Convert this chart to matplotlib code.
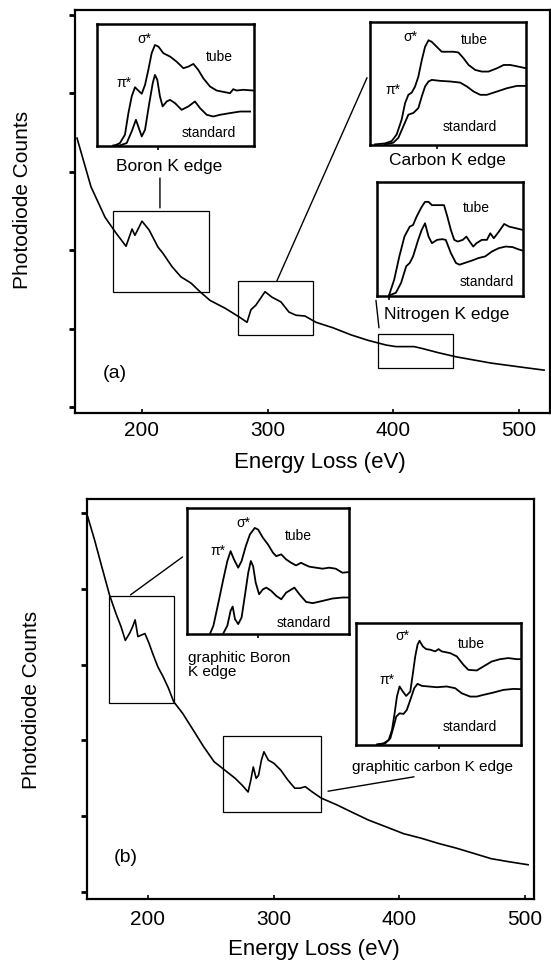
import matplotlib.pyplot as plt
from matplotlib.patches import Rectangle

plt.rcParams['font.family'] = ['Liberation Sans', 'DejaVu Sans']

# main spectrum (a) - BN tube, energy loss vs counts (arbitrary units)
a_energy = [148.3, 159.4, 170.6, 179.3, 187.3, 192.1, 194.4, 200.0, 205.6, 212.7,
            216.7, 223.9, 231.0, 239.0, 246.2, 254.1, 266.1, 277.2, 283.6, 286.7,
            290.7, 297.9, 303.5, 310.6, 317.0, 322.6, 329.7, 338.5, 352.0, 366.3,
            379.9, 394.2, 402.1, 416.5, 422.0, 436.4, 449.9, 477.7, 505.6, 520.0]
a_counts = [3.43, 2.81, 2.42, 2.22, 2.05, 2.27, 2.19, 2.37, 2.26, 2.04,
            1.96, 1.79, 1.66, 1.58, 1.47, 1.36, 1.26, 1.15, 1.08, 1.24,
            1.30, 1.47, 1.40, 1.34, 1.21, 1.17, 1.16, 1.08, 1.01, 0.92,
            0.85, 0.79, 0.77, 0.77, 0.75, 0.69, 0.64, 0.56, 0.50, 0.47]

# main spectrum (b)
b_energy = [152.1, 157.6, 163.3, 169.4, 174.4, 178.6, 182.0, 185.6, 187.8, 189.8,
            192.0, 194.8, 197.6, 200.9, 203.7, 207.9, 212.1, 216.3, 220.5, 227.5,
            235.9, 244.2, 252.6, 261.0, 269.4, 274.9, 279.7, 281.9, 283.8, 286.1,
            288.0, 290.3, 292.3, 295.8, 300.1, 305.6, 311.2, 316.8, 321.0, 325.2,
            330.8, 337.8, 350.3, 361.5, 375.4, 389.5, 403.4, 417.4, 431.4, 445.2,
            459.2, 473.1, 487.1, 502.5]
b_counts = [4.95, 4.64, 4.29, 3.92, 3.68, 3.50, 3.32, 3.42, 3.50, 3.59,
            3.37, 3.39, 3.41, 3.28, 3.15, 2.97, 2.84, 2.69, 2.51, 2.36,
            2.14, 1.92, 1.72, 1.61, 1.50, 1.41, 1.32, 1.48, 1.65, 1.50,
            1.54, 1.74, 1.85, 1.74, 1.70, 1.61, 1.48, 1.37, 1.37, 1.39,
            1.32, 1.24, 1.15, 1.06, 0.95, 0.86, 0.77, 0.71, 0.64, 0.58,
            0.51, 0.44, 0.40, 0.36]

xticks = [200, 300, 400, 500]
yticks = [0, 1, 2, 3, 4, 5]

# inset edges (relative energy 0-100, relative intensity 0-100)
boron_a_tube_x = [11.5, 14.6, 17.8, 20.0, 22.1, 24.2, 26.3, 28.5, 30.6, 32.7, 34.8, 36.9, 39.1, 42.3,
                  46.5, 50.7, 55.0, 58.2, 61.4, 64.5, 67.7, 72.0, 76.2, 80.5, 84.7, 86.8, 89.0, 93.2, 99.6]
boron_a_tube_y = [0, 1.9, 8.8, 26.6, 40.3, 47.9, 45.2, 42.5, 49.9, 62.2, 75.9, 82.7, 81.4, 75.9,
                  73.2, 69.0, 63.6, 64.9, 67.1, 62.2, 55.3, 48.5, 45.2, 44.1, 43.0, 46.3, 45.2, 45.8, 45.2]
boron_a_std_x = [10.4, 14.6, 18.9, 22.1, 24.8, 27.0, 28.5, 30.6, 33.3, 35.5, 36.9, 38.4, 40.1, 41.8,
                 44.4, 46.5, 49.7, 53.9, 58.2, 62.4, 65.6, 69.9, 74.1, 78.3, 84.7, 91.1, 97.5]
boron_a_std_y = [0, 0, 1.9, 11.5, 21.1, 12.9, 7.4, 12.9, 34.8, 51.2, 58.1, 54.0, 40.3, 32.1,
                 36.2, 37.5, 34.8, 29.3, 32.1, 36.2, 30.7, 25.2, 23.8, 25.2, 26.6, 27.9, 27.9]

carbon_a_tube_x = [3.2, 9.6, 13.9, 17.1, 20.3, 22.5, 24.6, 26.8, 28.9, 31.0, 33.2, 35.3, 37.5, 39.6,
                   42.8, 46.0, 49.3, 53.5, 56.7, 60.0, 63.2, 67.5, 71.7, 76.0, 81.4, 85.7, 89.9, 95.3, 100]
carbon_a_tube_y = [0, 0.8, 2.7, 8.1, 20.3, 33.8, 40.5, 42.4, 47.3, 55.4, 68.9, 79.7, 85.1, 83.8,
                   79.7, 75.7, 75.7, 75.7, 75.1, 70.3, 64.9, 60.8, 59.5, 59.5, 62.2, 64.9, 64.9, 63.5, 62.2]
carbon_a_std_x = [9.6, 15.0, 18.2, 21.4, 24.6, 27.8, 31.0, 33.2, 35.3, 37.5, 39.6, 45.0, 51.4,
                  57.8, 62.1, 66.4, 70.7, 74.9, 81.4, 87.8, 94.2, 100]
carbon_a_std_y = [0, 1.4, 5.4, 14.9, 24.3, 25.7, 29.7, 39.2, 47.3, 51.4, 52.7, 51.9, 51.4,
                  50.5, 47.3, 43.2, 40.5, 40.5, 43.2, 45.9, 47.8, 47.8]

nitrogen_a_tube_x = [8.2, 11.8, 15.3, 18.8, 22.4, 24.7, 27.1, 30.6, 32.9, 35.3, 37.6, 42.4, 45.9, 48.2,
                     50.6, 52.9, 55.3, 58.8, 61.2, 63.5, 65.9, 68.2, 71.8, 75.3, 77.6, 80.0, 83.5,
                     87.1, 90.6, 95.3, 100]
nitrogen_a_tube_y = [0, 14.0, 34.4, 51.9, 60.6, 62.1, 69.4, 78.1, 82.5, 82.5, 79.6, 79.6, 79.6, 69.4,
                     57.7, 49.0, 47.5, 49.0, 51.9, 47.5, 43.1, 46.1, 49.0, 49.0, 54.8, 50.4, 56.3,
                     63.0, 60.6, 59.2, 57.7]
nitrogen_a_std_x = [8.2, 12.9, 16.5, 20.0, 22.4, 24.7, 28.2, 30.6, 32.9, 35.3, 37.6, 41.2, 44.7, 47.1,
                    50.6, 54.1, 56.5, 60.0, 64.7, 69.4, 74.1, 78.8, 83.5, 88.2, 92.9, 96.5, 100]
nitrogen_a_std_y = [0, 2.3, 11.1, 25.7, 28.6, 34.4, 49.0, 57.7, 63.6, 51.9, 46.1, 49.0, 49.6, 49.0,
                    37.3, 28.6, 27.1, 28.6, 30.6, 32.9, 34.4, 38.8, 41.7, 43.1, 42.6, 40.8, 39.4]

boron_b_tube_x = [14.3, 16.3, 19.4, 22.4, 24.9, 26.9, 29.0, 31.6, 33.7, 36.3, 38.8, 41.8, 43.9, 46.9,
                  50.0, 53.1, 55.1, 58.2, 61.2, 64.3, 67.3, 70.4, 72.4, 75.5, 79.6, 83.7, 87.8,
                  91.8, 95.9, 100]
boron_b_tube_y = [0, 6.1, 24.6, 43.1, 57.7, 65.6, 59.0, 52.4, 57.7, 69.6, 78.8, 84.1, 82.8, 76.2,
                  70.9, 64.3, 61.6, 63.0, 59.0, 56.3, 54.2, 56.3, 55.0, 53.2, 52.4, 51.6, 52.4,
                  51.6, 48.4, 48.9]
boron_b_std_x = [22.4, 24.9, 26.9, 28.2, 29.6, 31.6, 33.7, 35.7, 37.8, 39.4, 40.8, 42.4, 44.5, 46.9,
                 49.0, 52.0, 55.1, 58.2, 61.2, 66.3, 69.4, 73.5, 77.6, 83.7, 89.8, 95.9, 100]
boron_b_std_y = [0, 6.1, 18.0, 21.4, 11.4, 7.4, 12.7, 29.9, 48.4, 57.7, 53.7, 40.5, 31.2, 35.2,
                 36.5, 33.9, 29.9, 27.2, 32.5, 36.5, 31.2, 25.1, 24.1, 25.9, 27.8, 28.6, 28.6]

carbon_b_tube_x = [12.7, 16.7, 19.8, 21.8, 23.4, 24.8, 26.4, 28.4, 30.4, 32.9, 34.5, 35.9, 37.3, 38.5,
                   40.5, 42.5, 45.0, 48.0, 50.0, 52.0, 57.1, 61.1, 65.1, 68.1, 73.2, 77.2, 82.3,
                   87.3, 92.3, 97.4, 100]
carbon_b_tube_y = [0, 0.8, 3.6, 11.8, 25.6, 39.4, 47.7, 43.5, 39.9, 43.5, 58.7, 72.5, 82.1, 85.4,
                   80.7, 78.5, 78.0, 76.6, 78.5, 76.6, 75.2, 72.5, 65.6, 61.4, 60.9, 64.2, 68.3,
                   70.2, 71.1, 70.2, 70.2]
carbon_b_std_x = [13.7, 17.7, 20.8, 22.8, 24.4, 26.4, 28.8, 30.8, 32.9, 35.3, 37.3, 39.9, 44.0, 49.0,
                  55.0, 60.1, 64.1, 69.2, 73.2, 77.2, 83.3, 89.3, 95.4, 100]
carbon_b_std_y = [0, 0.8, 5.0, 14.6, 22.9, 25.6, 25.1, 28.4, 36.6, 46.3, 49.9, 48.2, 47.7, 47.1,
                  47.7, 46.3, 42.1, 39.4, 39.4, 40.8, 42.7, 44.9, 45.7, 45.5]

W, H = 551, 961
fig = plt.figure(figsize=(W / 100, H / 100), dpi=100)


def px_axes(l, t, r, b):
    return fig.add_axes([l / W, 1 - b / H, (r - l) / W, (b - t) / H])


def ftext(x, y, s, **kw):
    fig.text(x / W, 1 - y / H, s, **kw)


def main_panel(box, xlim, ylim, energy, counts, tag, tagpos, lab_y, ylab_pos, xlab_pos, pad):
    ax = px_axes(*box)
    ax.plot(energy, counts, color='black', lw=1.2)
    ax.set_xlim(*xlim)
    ax.set_ylim(*ylim)
    ax.set_xticks(xticks)
    ax.set_yticks(yticks)
    ax.set_yticklabels([])
    ax.tick_params(axis='x', direction='in', length=3, width=1.2, labelsize=15, pad=pad)
    ax.tick_params(axis='y', direction='out', length=4, width=2)
    for s in ax.spines.values():
        s.set_linewidth(1.6)
    ftext(*ylab_pos, 'Photodiode Counts', rotation=90, ha='center', va='center', fontsize=15)
    ftext(*xlab_pos, 'Energy Loss (eV)', ha='center', va='center', fontsize=16)
    ftext(*tagpos, tag, ha='center', va='center', fontsize=14)
    return ax


def inset(box, tx, ty, sx, sy, labels, tick):
    ax = px_axes(*box)
    ax.plot(tx, ty, color='black', lw=1.3)
    ax.plot(sx, sy, color='black', lw=1.3)
    ax.set_xlim(0, 100)
    ax.set_ylim(-0.5, 100)
    ax.set_yticks([])
    ax.set_xticks([tick])
    ax.set_xticklabels([])
    ax.tick_params(axis='x', direction='out', length=3, width=1.2)
    for s in ax.spines.values():
        s.set_linewidth(1.8)
    for (x, y, s) in labels:
        ax.text(x, y, s, transform=ax.transAxes, ha='center', va='center', fontsize=10)
    return ax


def box(ax, x0, x1, y0, y1):
    ax.add_patch(Rectangle((x0, y0), x1 - x0, y1 - y0, fill=False, lw=0.9, ec='black'))


def link(ax, p, q):
    ax.annotate('', xy=q, xytext=p, xycoords='data', textcoords='data',
                arrowprops=dict(arrowstyle='-', lw=1.0, color='black', shrinkA=0, shrinkB=0),
                annotation_clip=False)


# ---- panel (a)
axa = main_panel((75, 10, 550, 413), (146.7, 524.7), (-0.077, 5.064), a_energy, a_counts,
                 '(a)', (115, 373), None, (23, 200), (320, 463), 6)
box(axa, 177, 253, 1.47, 2.50)
box(axa, 276.4, 336.1, 0.92, 1.61)
box(axa, 387.8, 447.5, 0.50, 0.93)
link(axa, (214.3, 2.54), (214.3, 2.92))
link(axa, (307.4, 1.61), (379.1, 4.20))
link(axa, (386.2, 1.36), (388.6, 1.01))

inset((97, 24, 254, 146), boron_a_tube_x, boron_a_tube_y, boron_a_std_x, boron_a_std_y,
      [(0.30, 0.88, 'σ*'), (0.17, 0.52, 'π*'), (0.78, 0.73, 'tube'), (0.71, 0.11, 'standard')], 39)
inset((370, 22, 526, 145), carbon_a_tube_x, carbon_a_tube_y, carbon_a_std_x, carbon_a_std_y,
      [(0.26, 0.88, 'σ*'), (0.15, 0.45, 'π*'), (0.67, 0.85, 'tube'), (0.64, 0.15, 'standard')], 43)
inset((377, 182, 523, 296), nitrogen_a_tube_x, nitrogen_a_tube_y, nitrogen_a_std_x, nitrogen_a_std_y,
      [(0.68, 0.77, 'tube'), (0.75, 0.12, 'standard')], 8)
ftext(169, 167, 'Boron K edge', ha='center', va='center', fontsize=12.5)
ftext(447, 160, 'Carbon K edge', ha='center', va='center', fontsize=12.5)
ftext(384, 315, 'Nitrogen K edge', ha='left', va='center', fontsize=12.5)

# ---- panel (b)
axb = main_panel((87, 499, 534, 899), (151.5, 507.2), (-0.092, 5.185), b_energy, b_counts,
                 '(b)', (126, 858), None, (32, 700), (314, 950), 8)
box(axb, 168.8, 221.0, 2.50, 3.90)
box(axb, 260.1, 337.8, 1.05, 2.06)
link(axb, (186.1, 3.92), (227.5, 4.42))
link(axb, (343.3, 1.33), (411.7, 1.52))

inset((187, 508, 349, 634), boron_b_tube_x, boron_b_tube_y, boron_b_std_x, boron_b_std_y,
      [(0.35, 0.88, 'σ*'), (0.19, 0.66, 'π*'), (0.69, 0.78, 'tube'), (0.72, 0.09, 'standard')], 44)
inset((356, 623, 521, 745), carbon_b_tube_x, carbon_b_tube_y, carbon_b_std_x, carbon_b_std_y,
      [(0.28, 0.89, 'σ*'), (0.19, 0.53, 'π*'), (0.70, 0.83, 'tube'), (0.69, 0.15, 'standard')], 50)
ftext(188, 665, 'graphitic Boron\nK edge', ha='left', va='center', fontsize=11, linespacing=1.0)
ftext(433, 767, 'graphitic carbon K edge', ha='center', va='center', fontsize=11)

fig.savefig('out.png', dpi=100)
